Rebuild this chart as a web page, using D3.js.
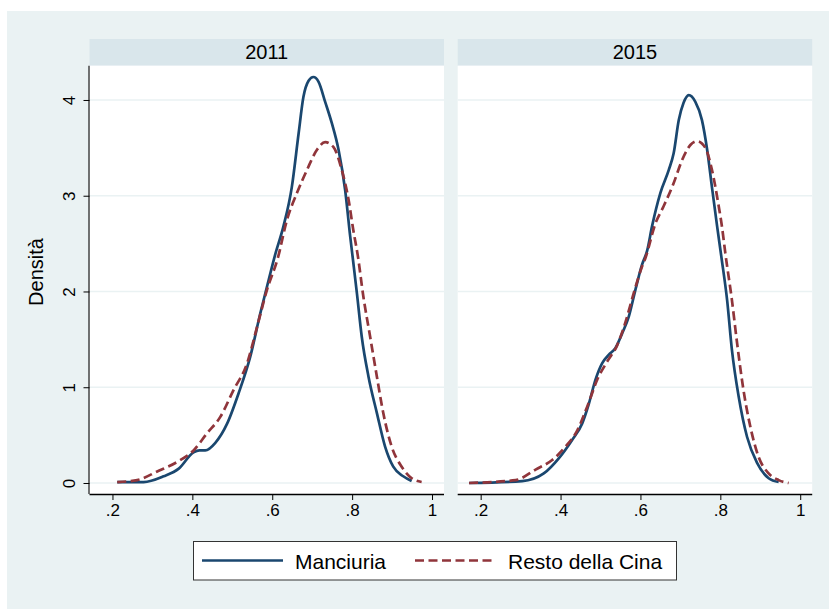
<!DOCTYPE html>
<html>
<head>
<meta charset="utf-8">
<script src="https://cdn.jsdelivr.net/npm/d3@7"></script>
<style>
	body { margin: 0; background: #fff; }
	svg { display: block; font-family: 'Liberation Sans', Arial, sans-serif; }
</style>
</head>
<body>
<div id="chart"></div>
<script>

// panels (by year) and series
const years = ['2011', '2015']
const seriesNames = ['Manciuria', 'Resto della Cina']
const xTicks = [0.2, 0.4, 0.6, 0.8, 1]
const xTickLabels = ['.2', '.4', '.6', '.8', '1']
const yTicks = [0, 1, 2, 3, 4]
const yTitle = 'Densità'

// kernel density estimates: [x, density]
const manciuria2011 = [[0.212,0.01],[0.278,0.01],[0.328,0.07],[0.366,0.15],[0.403,0.32],[0.418,0.34],[0.4325,0.34],[0.4575,0.42],[0.487,0.62],[0.516,0.94],[0.545,1.32],[0.57,1.77],[0.591,2.12],[0.607,2.38],[0.628,2.68],[0.649,3.09],[0.666,3.65],[0.678,4.03],[0.691,4.20],[0.703,4.24],[0.716,4.19],[0.7325,3.98],[0.749,3.76],[0.766,3.48],[0.7825,3.06],[0.795,2.58],[0.803,2.3],[0.812,1.98],[0.824,1.53],[0.841,1.11],[0.862,0.73],[0.8825,0.38],[0.903,0.17],[0.928,0.07],[0.949,0.02]]
const resto2011 = [[0.212,0.01],[0.262,0.03],[0.312,0.12],[0.362,0.22],[0.403,0.34],[0.437,0.52],[0.47,0.69],[0.503,0.97],[0.537,1.25],[0.562,1.63],[0.587,2.02],[0.614,2.35],[0.637,2.75],[0.662,3.03],[0.687,3.27],[0.712,3.48],[0.7325,3.56],[0.753,3.51],[0.774,3.27],[0.791,2.96],[0.803,2.64],[0.814,2.38],[0.828,1.95],[0.845,1.53],[0.862,1.11],[0.878,0.73],[0.899,0.38],[0.924,0.17],[0.949,0.05],[0.974,0.01]]
const manciuria2015 = [[0.171,0],[0.304,0.02],[0.358,0.10],[0.396,0.26],[0.429,0.45],[0.454,0.62],[0.471,0.83],[0.4875,1.08],[0.504,1.25],[0.521,1.34],[0.5375,1.41],[0.554,1.56],[0.571,1.74],[0.5875,2.02],[0.604,2.28],[0.617,2.43],[0.629,2.68],[0.65,3.03],[0.671,3.27],[0.683,3.44],[0.696,3.79],[0.708,3.97],[0.721,4.05],[0.7375,3.98],[0.754,3.79],[0.767,3.48],[0.779,3.09],[0.792,2.68],[0.803,2.35],[0.817,1.91],[0.829,1.39],[0.846,0.90],[0.867,0.48],[0.892,0.21],[0.921,0.05],[0.946,0.01]]
const resto2015 = [[0.171,0],[0.2875,0.03],[0.3375,0.14],[0.379,0.24],[0.4125,0.38],[0.442,0.55],[0.467,0.80],[0.492,1.08],[0.517,1.27],[0.542,1.44],[0.5625,1.68],[0.583,1.98],[0.604,2.26],[0.6125,2.35],[0.6375,2.71],[0.658,2.89],[0.683,3.13],[0.704,3.37],[0.725,3.53],[0.742,3.57],[0.7625,3.50],[0.779,3.27],[0.796,2.89],[0.804,2.68],[0.8125,2.4],[0.829,1.91],[0.842,1.46],[0.858,0.97],[0.875,0.59],[0.896,0.27],[0.921,0.10],[0.946,0.03],[0.971,0]]

const panelData = [
	[manciuria2011, resto2011],
	[manciuria2015, resto2015]
]

var width = 829
var height = 609
var colors = ['#1a476f', '#90353b']
var dashes = [null, '9,4.5']

var panelLeft = [89.5, 457.7]
var panelWidth = 354.5
var stripTop = 39
var plotTop = 65.7
var plotBottom = 494

var svg = d3.select('#chart')
	.append('svg')
	.attr('width', width)
	.attr('height', height)

// outer background
svg.append('rect')
	.attr('x', 7)
	.attr('y', 11)
	.attr('width', width - 7)
	.attr('height', height - 11)
	.attr('fill', '#eaf2f3')

var y = d3.scaleLinear()
	.domain([-0.115, 4.358])
	.range([plotBottom, plotTop])

var line = d3.line()
	.curve(d3.curveMonotoneX)

years.forEach((year, i) => {
	var left = panelLeft[i]
	var x = d3.scaleLinear()
		.domain([0.1425, 1.03])
		.range([left, left + panelWidth])

	var g = svg.append('g')

	// strip
	g.append('rect')
		.attr('x', left)
		.attr('y', stripTop)
		.attr('width', panelWidth)
		.attr('height', plotTop - stripTop)
		.attr('fill', '#d9e6eb')
	g.append('text')
		.attr('x', left + panelWidth / 2)
		.attr('y', 59)
		.attr('text-anchor', 'middle')
		.style('font-size', '20px')
		.style('fill', '#000')
		.text(year)

	// plot region
	g.append('rect')
		.attr('x', left)
		.attr('y', plotTop)
		.attr('width', panelWidth)
		.attr('height', plotBottom - plotTop)
		.attr('fill', '#fff')

	// gridlines
	g.selectAll('.grid')
		.data(yTicks)
		.enter()
		.append('line')
		.attr('x1', left)
		.attr('x2', left + panelWidth)
		.attr('y1', d => y(d))
		.attr('y2', d => y(d))
		.attr('stroke', '#eaf2f3')
		.attr('stroke-width', 1.5)

	// x axis
	var xAxis = g.append('g')
		.attr('transform', 'translate(0,' + plotBottom + ')')
		.call(d3.axisBottom(x)
			.tickValues(xTicks)
			.tickFormat((d, k) => xTickLabels[k])
			.tickSize(6)
			.tickPadding(4))
	xAxis.select('.domain')
		.attr('d', 'M' + left + ',0.5H' + (left + panelWidth))
		.attr('stroke', '#000')
		.attr('stroke-width', 1.3)
	xAxis.selectAll('.tick line').attr('stroke', '#000')
	xAxis.selectAll('.tick text')
		.style('font-size', '17px')
		.style('font-family', 'Liberation Sans, Arial, sans-serif')
		.attr('fill', '#000')

	// y axis on the first panel only
	if (i == 0) {
		var yAxis = g.append('g')
			.attr('transform', 'translate(' + left + ',0)')
			.call(d3.axisLeft(y)
				.tickValues(yTicks)
				.tickSize(6)
				.tickFormat(d3.format('d')))
		yAxis.select('.domain')
			.attr('d', 'M-0.5,' + plotTop + 'V' + plotBottom)
			.attr('stroke', '#444')
			.attr('stroke-width', 1.5)
		yAxis.selectAll('.tick line').attr('stroke', '#000')
		yAxis.selectAll('.tick text')
			.attr('x', null)
			.attr('dy', null)
			.attr('transform', 'translate(-15,0) rotate(-90)')
			.attr('text-anchor', 'middle')
			.style('font-size', '17px')
			.style('font-family', 'Liberation Sans, Arial, sans-serif')
			.attr('fill', '#000')
	}

	// density curves
	panelData[i].forEach((series, s) => {
		g.append('path')
			.datum(series)
			.attr('d', line.x(d => x(d[0])).y(d => y(d[1])))
			.attr('fill', 'none')
			.attr('stroke', colors[s])
			.attr('stroke-width', 2.7)
			.attr('stroke-dasharray', dashes[s])
			.attr('stroke-linejoin', 'round')
	})
})

// y title
svg.append('text')
	.attr('transform', 'translate(43,272) rotate(-90)')
	.attr('text-anchor', 'middle')
	.style('font-size', '20px')
	.style('fill', '#000')
	.text(yTitle)

// legend
var legend = svg.append('g')
legend.append('rect')
	.attr('x', 193.5)
	.attr('y', 541.5)
	.attr('width', 483)
	.attr('height', 38.5)
	.attr('fill', '#fff')
	.attr('stroke', '#333')
	.attr('stroke-width', 1)

var legendX = [202, 415]
seriesNames.forEach((name, s) => {
	legend.append('line')
		.attr('x1', legendX[s])
		.attr('x2', legendX[s] + 81)
		.attr('y1', 560.5)
		.attr('y2', 560.5)
		.attr('stroke', colors[s])
		.attr('stroke-width', 2.7)
		.attr('stroke-dasharray', dashes[s])
	legend.append('text')
		.attr('x', legendX[s] + 93)
		.attr('y', 568.5)
		.style('font-size', '21px')
		.style('fill', '#000')
		.text(name)
})

</script>
</body>
</html>
